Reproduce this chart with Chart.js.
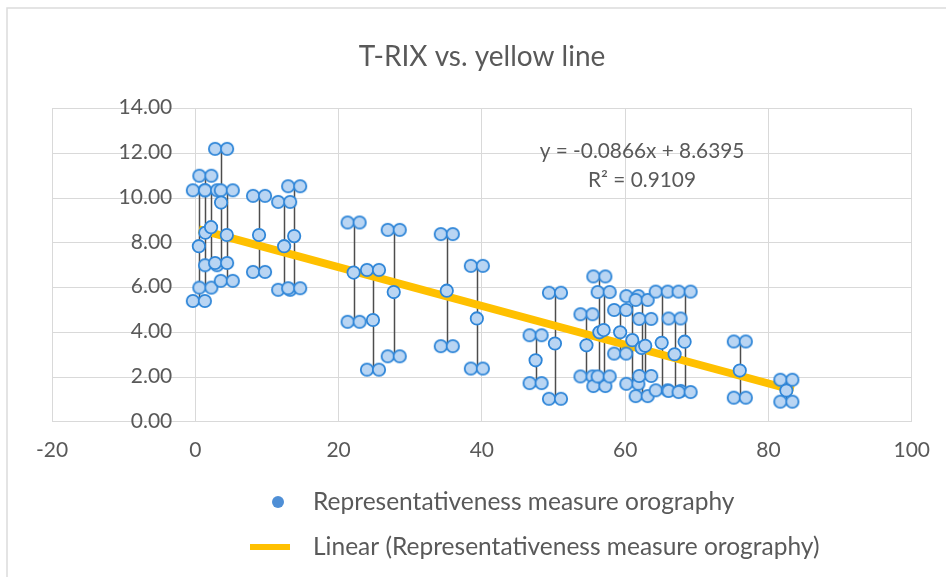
<!DOCTYPE html>
<html lang="en">
<head>
<meta charset="UTF-8">
<title>T-RIX vs. yellow line</title>
<script src="https://cdn.jsdelivr.net/npm/chart.js"></script>
<style>
    body { margin: 0; background: #ffffff; }
    #wrap { width: 946px; height: 577px; position: relative; }
</style>
</head>
<body>

<div id="wrap"><canvas id="trixChart"></canvas></div>

<script>
    // values: x, centre, lower and upper end of each bar
    const xValues    = [0.5, 1.4, 2.2, 3.6, 4.4, 8.9, 12.4, 13.8, 22.1, 24.8, 27.7, 35.1, 39.3,
                        47.5, 50.2, 54.6, 56.4, 57.0, 59.3, 61.0, 62.3, 62.8, 65.1, 66.9, 68.3, 76.0, 82.5];
    const yValues    = [7.85, 8.45, 8.7, 9.8, 8.35, 8.35, 7.85, 8.3, 6.67, 4.55, 5.8, 5.86, 4.62,
                        2.75, 3.5, 3.42, 4.0, 4.1, 4.0, 3.65, 3.3, 3.4, 3.53, 3.02, 3.58, 2.29, 1.4];
    const lowValues  = [5.4, 6.0, 7.0, 7.1, 6.3, 6.7, 5.9, 5.97, 4.47, 2.33, 2.93, 3.38, 2.38,
                        1.73, 1.03, 2.03, 1.6, 2.03, 3.05, 1.7, 1.15, 2.05, 1.41, 1.38, 1.33, 1.08, 0.9];
    const highValues = [10.35, 11.0, 10.35, 12.2, 10.35, 10.1, 9.83, 10.53, 8.91, 6.79, 8.58, 8.39, 6.97,
                        3.87, 5.77, 4.81, 6.5, 5.8, 5.0, 5.62, 5.45, 4.6, 5.82, 4.62, 5.82, 3.59, 1.88];

    // trendline end points (y = -0.0866x + 8.6395)
    const trendX = [0.5, 83.5];
    const trendY = [8.60, 1.41];

    const seriesName = 'Representativeness measure orography';
    const trendName = 'Linear (Representativeness measure orography)';
    const equationText = ['y = -0.0866x + 8.6395', 'R\u00b2 = 0.9109'];

    const FONT = 'Lato, Calibri, sans-serif';
    const GREY_TEXT = '#595959';
    const GRID = '#d9d9d9';
    const MARK_FILL = '#b9d5f3';
    const MARK_EDGE = '#2f86d8';

    // cap of an error bar: two little circles side by side
    function makeCap() {
        const c = document.createElement('canvas');
        c.width = 28; c.height = 16;
        const g = c.getContext('2d');
        [8, 20].forEach(cx => {
            g.beginPath();
            g.arc(cx, 8, 6.2, 0, Math.PI * 2);
            g.fillStyle = MARK_FILL;
            g.fill();
            g.lineWidth = 1.8;
            g.strokeStyle = MARK_EDGE;
            g.stroke();
        });
        return c;
    }
    const capImage = makeCap();

    const points = xValues.map((x, i) => ({ x: x, y: yValues[i] }));
    const caps = [];
    xValues.forEach((x, i) => {
        caps.push({ x: x, y: lowValues[i] });
        caps.push({ x: x, y: highValues[i] });
    });
    const trendPoints = trendX.map((x, i) => ({ x: x, y: trendY[i] }));

    const errorBars = {
        id: 'errorBars',
        beforeDatasetsDraw(chart) {
            const { ctx, scales: { x, y } } = chart;
            ctx.save();
            ctx.strokeStyle = '#4d4d4d';
            ctx.lineWidth = 1.5;
            xValues.forEach((v, i) => {
                const px = Math.round(x.getPixelForValue(v)) + 0.5;
                ctx.beginPath();
                ctx.moveTo(px, y.getPixelForValue(lowValues[i]));
                ctx.lineTo(px, y.getPixelForValue(highValues[i]));
                ctx.stroke();
            });
            ctx.restore();
        }
    };

    const extras = {
        id: 'extras',
        beforeDraw(chart) {
            const ctx = chart.ctx;
            ctx.save();
            ctx.fillStyle = '#ffffff';
            ctx.fillRect(0, 0, chart.width, chart.height);
            ctx.strokeStyle = '#dcdcdc';
            ctx.lineWidth = 1.5;
            ctx.strokeRect(7, 8, chart.width + 20, chart.height + 20);
            ctx.restore();
        },
        afterDraw(chart) {
            const ctx = chart.ctx;
            const { x, y } = chart.scales;
            ctx.save();
            ctx.fillStyle = GREY_TEXT;
            ctx.textBaseline = 'middle';

            // y tick labels sit left of the axis at x = 0
            ctx.font = '21px ' + FONT;
            ctx.textAlign = 'right';
            const axisX = x.getPixelForValue(0);
            y.ticks.forEach(t => {
                ctx.fillText(t.value.toFixed(2), axisX - 23, y.getPixelForValue(t.value) - 1);
            });

            // equation of the trendline
            ctx.font = '20.8px ' + FONT;
            ctx.textAlign = 'center';
            ctx.fillText(equationText[0], 642, 151);
            ctx.fillText(equationText[1], 642, 180);

            // legend
            ctx.textAlign = 'left';
            ctx.font = '24.5px ' + FONT;
            ctx.beginPath();
            ctx.arc(278, 502, 6, 0, Math.PI * 2);
            ctx.fillStyle = '#4f8fd6';
            ctx.fill();
            ctx.fillStyle = GREY_TEXT;
            ctx.fillText(seriesName, 313, 502);

            ctx.strokeStyle = '#ffc000';
            ctx.lineWidth = 6;
            ctx.beginPath();
            ctx.moveTo(250, 547);
            ctx.lineTo(290, 547);
            ctx.stroke();
            ctx.fillText(trendName, 313, 547);
            ctx.restore();
        }
    };

    new Chart(document.getElementById('trixChart'), {
        type: 'scatter',
        data: {
            datasets: [
                {
                    label: seriesName,
                    data: points,
                    pointStyle: 'circle',
                    pointRadius: 6.2,
                    pointBackgroundColor: MARK_FILL,
                    pointBorderColor: MARK_EDGE,
                    pointBorderWidth: 1.8,
                    order: 0
                },
                {
                    label: 'caps',
                    data: caps,
                    pointStyle: capImage,
                    pointRadius: 8,
                    order: 1
                },
                {
                    label: trendName,
                    type: 'line',
                    data: trendPoints,
                    borderColor: '#ffc000',
                    borderWidth: 8,
                    pointRadius: 0,
                    fill: false,
                    order: 2
                }
            ]
        },
        options: {
            responsive: true,
            maintainAspectRatio: false,
            animation: false,
            layout: { padding: { left: 52, right: 34, top: 0, bottom: 98 } },
            plugins: {
                legend: { display: false },
                tooltip: { enabled: false },
                title: {
                    display: true,
                    text: 'T-RIX vs. yellow line',
                    color: GREY_TEXT,
                    font: { family: FONT, size: 28, weight: 'normal' },
                    padding: { top: 40, bottom: 35 }
                }
            },
            scales: {
                x: {
                    type: 'linear',
                    min: -20,
                    max: 100,
                    grid: { color: GRID, drawTicks: false },
                    border: { color: GRID },
                    ticks: {
                        stepSize: 20,
                        padding: 16,
                        color: GREY_TEXT,
                        font: { family: FONT, size: 21 }
                    }
                },
                y: {
                    type: 'linear',
                    position: { x: 0 },
                    min: 0,
                    max: 14,
                    grid: { color: GRID, drawTicks: false },
                    border: { color: GRID },
                    ticks: { stepSize: 2, display: false }
                }
            }
        },
        plugins: [extras, errorBars]
    });
</script>

</body>
</html>
